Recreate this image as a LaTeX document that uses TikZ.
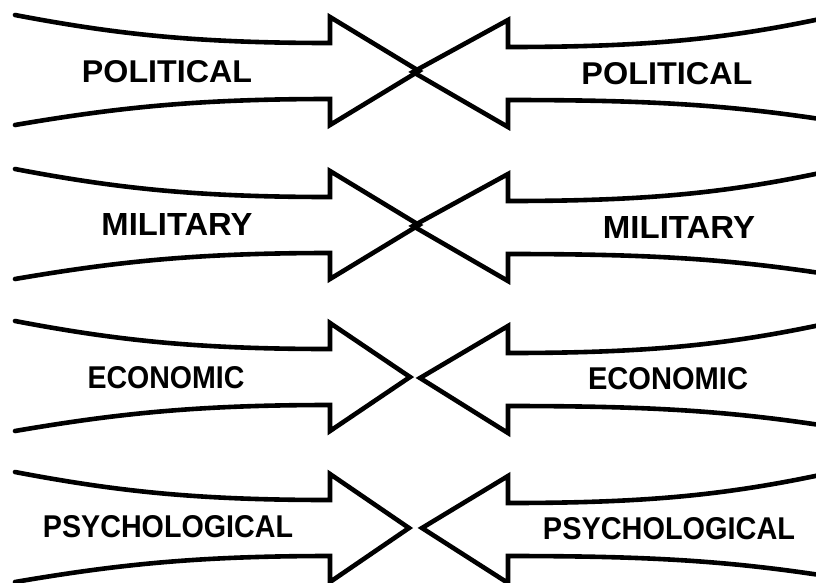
\documentclass[tikz,border=0pt]{standalone}
\usepackage{graphicx}
\usepackage{fontspec}
\setmainfont{Liberation Sans}

% Word set in bold caps, stretched to a given width and cap height
\newcommand{\capword}[2]{\resizebox{#1}{22pt}{\bfseries #2}}

% Arrow pointing right: #1 = centre line y, #2 = tip x
\newcommand{\rightwardarrow}[2]{%
  \draw[outline] (15,#1-56) .. controls (120,#1-36) and (200,#1-28) .. (330,#1-28)
    -- (330,#1-54) -- (#2,#1) -- (330,#1+54) -- (330,#1+28)
    .. controls (200,#1+28) and (120,#1+36) .. (15,#1+54);}

% Arrow pointing left: #1 = centre line y, #2 = tip x
\newcommand{\leftwardarrow}[2]{%
  \draw[outline] (820,#1-53) .. controls (720,#1-32) and (640,#1-25) .. (508,#1-25)
    -- (508,#1-52) -- (#2,#1) -- (508,#1+55) -- (508,#1+28)
    .. controls (640,#1+28) and (720,#1+32) .. (820,#1+47);}

\tikzset{
  outline/.style={line width=4.6pt, line join=miter, line cap=round, black},
  word/.style={inner sep=0pt, outer sep=0pt, text=black}
}

\begin{document}
\begin{tikzpicture}[x=1pt, y=-1pt]
  \useasboundingbox (0,0) rectangle (816,582);
  \clip (0,0) rectangle (816,582);

  % political: the two heads cross
  \rightwardarrow{71}{419}
  \leftwardarrow{72}{413}
  \node[word] (polL) at (167,72)  {\capword{170pt}{POLITICAL}};
  \node[word] (polR) at (667,74)  {\capword{171pt}{POLITICAL}};

  % military: the two heads cross
  \rightwardarrow{225}{419}
  \leftwardarrow{226}{413}
  \node[word] (milL) at (177,224)  {\capword{151pt}{MILITARY}};
  \node[word] (milR) at (679,227)  {\capword{152pt}{MILITARY}};

  % economic: the two heads stop just short of each other
  \rightwardarrow{377}{410}
  \leftwardarrow{378}{420}
  \node[word] (ecoL) at (166,378)  {\capword{157pt}{ECONOMIC}};
  \node[word] (ecoR) at (668,379)  {\capword{160pt}{ECONOMIC}};

  % psychological: the two heads stop just short of each other
  \rightwardarrow{528}{409}
  \leftwardarrow{528}{422}
  \node[word] (psyL) at (168,527)  {\capword{250pt}{PSYCHOLOGICAL}};
  \node[word] (psyR) at (669,529)  {\capword{252pt}{PSYCHOLOGICAL}};
\end{tikzpicture}
\end{document}
